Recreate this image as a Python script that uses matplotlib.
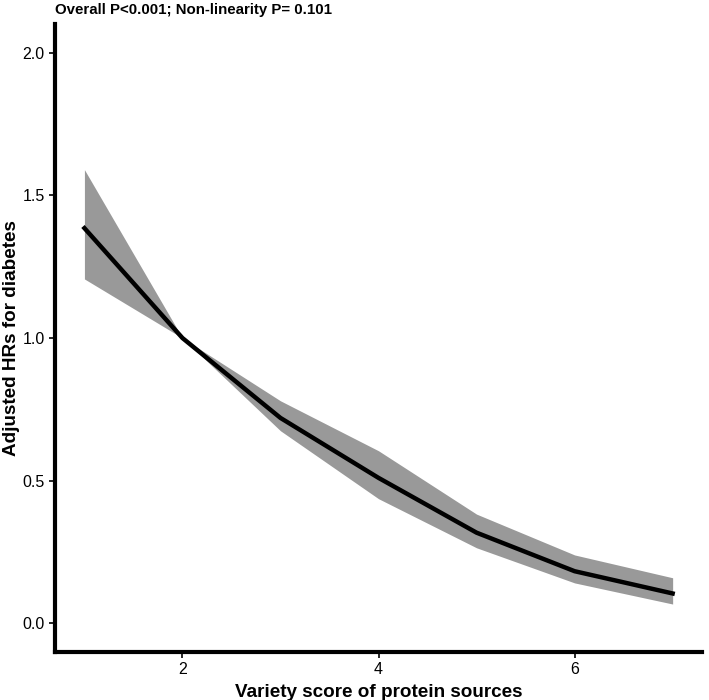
import matplotlib.pyplot as plt

plt.rcParams['font.family'] = ['Liberation Sans', 'DejaVu Sans']

score = [1, 2, 3, 4, 5, 6, 7]
hr = [1.385, 1.0, 0.72, 0.51, 0.318, 0.183, 0.105]
hr_low = [1.207, 1.0, 0.675, 0.437, 0.265, 0.142, 0.068]
hr_high = [1.59, 1.0, 0.78, 0.605, 0.383, 0.24, 0.16]

fig = plt.figure(figsize=(7.09, 7.0), dpi=100)
ax = fig.add_axes([0.0776, 0.0686, 0.9126, 0.897])

# confidence ribbon and fitted curve
ax.fill_between(score, hr_low, hr_high, color="#999999", linewidth=0)
ax.plot(score, hr, color="black", linewidth=3.2)

ax.set_xlim(0.7, 7.3)
ax.set_ylim(-0.1, 2.1)
ax.set_xticks([2, 4, 6])
ax.set_yticks([0.0, 0.5, 1.0, 1.5, 2.0])
ax.set_yticklabels(["0.0", "0.5", "1.0", "1.5", "2.0"])

for side in ["top", "right"]:
    ax.spines[side].set_visible(False)
for side in ["left", "bottom"]:
    ax.spines[side].set_linewidth(3)
ax.tick_params(axis="both", length=4, width=1.2, labelsize=11.5, colors="black")

ax.set_xlabel("Variety score of protein sources", fontsize=13.6, fontweight="bold", labelpad=5)
ax.set_ylabel("Adjusted HRs for diabetes", fontsize=13.6, fontweight="bold", labelpad=2)
fig.text(0.0776, 0.986, "Overall P<0.001; Non-linearity P= 0.101",
         fontsize=10.8, fontweight="bold", va="center", ha="left")

fig.savefig("out.png", dpi=100)
